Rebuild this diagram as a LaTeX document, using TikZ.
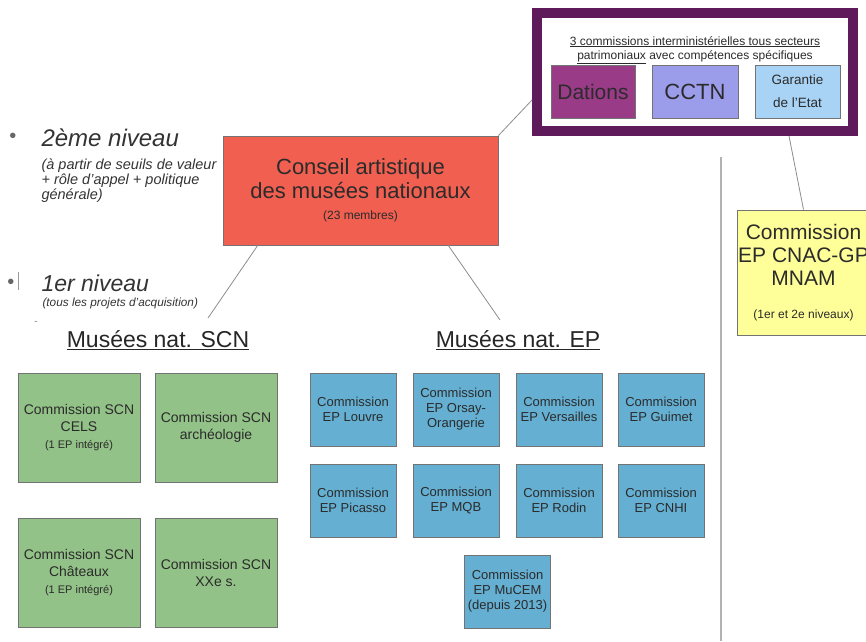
\documentclass[tikz,border=0pt]{standalone}
\usepackage{fontspec}
\setmainfont{Liberation Sans}
\definecolor{consred}{HTML}{F05F50}
\definecolor{scngreen}{HTML}{92C287}
\definecolor{epblue}{HTML}{64AFD2}
\definecolor{cnacyellow}{HTML}{FFFF99}
\definecolor{commpurple}{HTML}{5E1A5A}
\definecolor{dationpurple}{HTML}{9A3B88}
\definecolor{cctnblue}{HTML}{9B9CEA}
\definecolor{garblue}{HTML}{A9D3F5}
\definecolor{boxtext}{HTML}{2B2B2B}
\newcommand{\fs}[2]{\fontsize{#1}{#2}\selectfont}
\begin{document}
\begin{tikzpicture}[x=1pt,y=-1pt,
    box/.style={draw=black!55, line width=0.8pt, align=center, inner sep=0pt, text=boxtext},
    scnbox/.style={box, fill=scngreen, minimum width=122, minimum height=109, font=\fs{14}{17}},
    epbox/.style={box, fill=epblue, minimum width=86, minimum height=73, font=\fs{13}{15}},
    smallbox/.style={box, minimum height=53},
    link/.style={draw=black!45, line width=0.8pt},
    level/.style={anchor=west, font=\itshape, text=black!80}]
    \useasboundingbox (0,0) rectangle (866,641);
    \clip (0,0) rectangle (866,641);

    % commissions interministerielles
    \node[draw=commpurple, line width=10pt, fill=white, minimum width=316, minimum height=118, inner sep=0pt] (comm) at (695,72) {};
    \node[font=\fs{12}{14}, text=boxtext, align=center] (commtitle) at (695,50) {\underline{3 commissions interministérielles tous secteurs}\\\underline{patrimoniaux} avec compétences spécifiques};
    \node[smallbox, fill=dationpurple, minimum width=84, font=\fs{21}{23}] (dations) at (593,91.5) {Dations};
    \node[smallbox, fill=cctnblue, minimum width=86, font=\fs{22}{24}] (cctn) at (695,91.5) {CCTN};
    \node[smallbox, fill=garblue, minimum width=85, font=\fs{13.5}{23}] (garantie) at (797.5,91.5) {Garantie\\de l'Etat};

    % conseil artistique
    \node[box, fill=consred, minimum width=275, minimum height=109, font=\fs{22}{24}] (cons) at (360.5,190.5) {Conseil artistique\\des musées nationaux\\[-3pt]{\fs{12}{14}(23 membres)}};

    % niveaux
    \node[text=black!60, font=\fs{20}{20}] (bullet2) at (13,138) {•};
    \node[level, font=\itshape\fs{24}{26}] (niv2) at (38,138) {2ème niveau};
    \node[level, font=\itshape\fs{14.5}{15}, align=left, anchor=north west] (niv2txt) at (38,155) {(à partir de seuils de valeur\\+ rôle d'appel + politique\\générale)};
    \node[text=black!60, font=\fs{20}{20}] (bullet1) at (11,284) {•};
    \draw[black!40, line width=0.6pt] (18,272) -- (18,290);
    \node[level, font=\itshape\fs{23}{25}] (niv1) at (38,283) {1er niveau};
    \node[level, font=\itshape\fs{11.8}{13}] (niv1txt) at (39,303) {(tous les projets d'acquisition)};
    \node[text=black!50, font=\fs{10}{10}] (dash) at (36,323) {-};

    % musees nationaux
    \node[font=\fs{23}{25}, text=black!85] (scn) at (158,340) {\underline{Musées nat. SCN}};
    \node[font=\fs{23}{25}, text=black!85] (ep) at (518,340) {\underline{Musées nat. EP}};

    \node[scnbox] (cels) at (79,427.5) {Commission SCN\\CELS\\{\fs{11}{13}(1 EP intégré)}};
    \node[scnbox] (archeo) at (216,427.5) {Commission SCN\\archéologie};
    \node[scnbox] (chateaux) at (79,572.5) {Commission SCN\\Châteaux\\{\fs{11}{13}(1 EP intégré)}};
    \node[scnbox] (xxe) at (216,572.5) {Commission SCN\\XXe s.};

    \node[epbox] (louvre) at (353,409.5) {Commission\\EP Louvre};
    \node[epbox] (orsay) at (456,409.5) {Commission\\EP Orsay-\\Orangerie};
    \node[epbox] (versailles) at (559,409.5) {Commission\\EP Versailles};
    \node[epbox] (guimet) at (661,409.5) {Commission\\EP Guimet};
    \node[epbox] (picasso) at (353,500.5) {Commission\\EP Picasso};
    \node[epbox] (mqb) at (456,500.5) {Commission\\EP MQB};
    \node[epbox] (rodin) at (559,500.5) {Commission\\EP Rodin};
    \node[epbox] (cnhi) at (661,500.5) {Commission\\EP CNHI};
    \node[epbox] (mucem) at (507.5,591.5) {Commission\\EP MuCEM\\(depuis 2013)};

    % CNAC-GP
    \node[box, fill=cnacyellow, minimum width=133, minimum height=125, font=\fs{21}{23}] (cnac) at (803.5,272.5) {Commission\\EP CNAC-GP\\MNAM\\[10pt]{\fs{12}{14}(1er et 2e niveaux)}};

    % liens
    \coordinate (commL) at (532,100);
    \coordinate (commB) at (789,136);
    \coordinate (consSW) at (258,245);
    \coordinate (consSE) at (448,245);
    \coordinate (scnN) at (208,318);
    \coordinate (epN) at (500,320);
    \coordinate (sepTop) at (721,157);
    \coordinate (sepBot) at (721,641);
    \draw[link] (cons.north east) -- (commL);
    \draw[link] (commB) -- (cnac.north);
    \draw[link] (consSW) -- (scnN);
    \draw[link] (consSE) -- (epN);
    \draw[black!30, line width=1.5pt] (sepTop) -- (sepBot);
\end{tikzpicture}
\end{document}
